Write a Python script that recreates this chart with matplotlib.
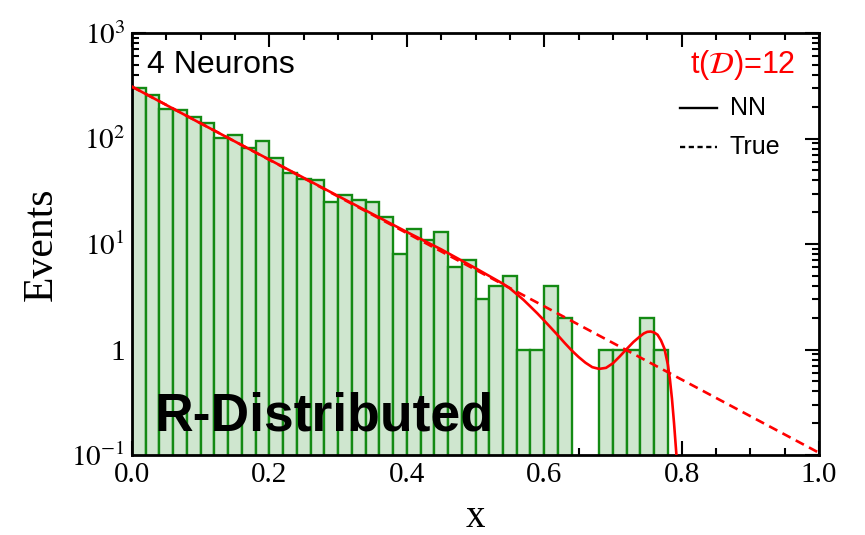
import matplotlib
matplotlib.use("Agg")
import matplotlib.pyplot as plt
from matplotlib.lines import Line2D
from matplotlib.ticker import FixedLocator, FixedFormatter, MultipleLocator, LogLocator, NullFormatter

# ---- data ----
bin_left = [0.00, 0.02, 0.04, 0.06, 0.08, 0.10, 0.12, 0.14, 0.16, 0.18,
            0.20, 0.22, 0.24, 0.26, 0.28, 0.30, 0.32, 0.34, 0.36, 0.38,
            0.40, 0.42, 0.44, 0.46, 0.48, 0.50, 0.52, 0.54, 0.56, 0.58,
            0.60, 0.62, 0.64, 0.66, 0.68, 0.70, 0.72, 0.74, 0.76]
counts = [298, 256, 192, 187, 161, 139, 102, 108, 82, 94,
          66, 47, 41, 40, 25, 29, 26, 25, 18, 8,
          14, 11, 13, 6, 7, 3, 4, 5, 1, 1,
          4, 2, 0, 0, 1, 1, 1, 2, 1]
bin_width = 0.02

true_x = [0.0, 1.0]
true_y = [310, 0.105]

nn_x = [0.00, 0.10, 0.20, 0.30, 0.40, 0.45, 0.50, 0.54, 0.55, 0.56,
        0.57, 0.58, 0.59, 0.60, 0.61, 0.62, 0.63, 0.64, 0.65, 0.66,
        0.67, 0.68, 0.69, 0.70, 0.71, 0.72, 0.73, 0.74, 0.745, 0.75,
        0.755, 0.76, 0.765, 0.77, 0.775, 0.78, 0.783, 0.786, 0.789, 0.792,
        0.795]
nn_y = [310, 139, 63, 28.5, 13.0, 8.9, 5.9, 4.2, 3.8, 3.35,
        2.95, 2.55, 2.2, 1.88, 1.6, 1.36, 1.15, 0.98, 0.85, 0.75,
        0.68, 0.655, 0.67, 0.74, 0.86, 1.01, 1.18, 1.34, 1.42, 1.47,
        1.48, 1.45, 1.38, 1.22, 1.02, 0.72, 0.52, 0.34, 0.2, 0.11,
        0.06]

ytick_vals = [0.1, 1, 10, 100, 1000]
ytick_labels = [r"$10^{-1}$", "1", r"$10^{1}$", r"$10^{2}$", r"$10^{3}$"]
xtick_vals = [0.0, 0.2, 0.4, 0.6, 0.8, 1.0]
xtick_labels = ["0.0", "0.2", "0.4", "0.6", "0.8", "1.0"]

plt.rcParams["mathtext.fontset"] = "stix"
serif = "Liberation Serif"
sans = "Liberation Sans"

fig = plt.figure(figsize=(8.65, 5.35), dpi=100)
ax = fig.add_axes([132 / 865, 80 / 535, 687 / 865, 422 / 535])

# bars (skip empty bins)
bx = [b for b, c in zip(bin_left, counts) if c > 0]
bc = [c for c in counts if c > 0]
ax.bar(bx, bc, width=bin_width, align="edge", facecolor="#cfe6cf",
       edgecolor="#138a13", linewidth=1.7, zorder=2)

ax.plot(true_x, true_y, color="red", linestyle=(0, (3.5, 2.2)), linewidth=1.9,
        zorder=3, label="True")
ax.plot(nn_x, nn_y, color="red", linestyle="-", linewidth=1.9, zorder=4, label="NN")

ax.set_yscale("log")
ax.set_xlim(0, 1)
ax.set_ylim(0.1, 1000)

ax.yaxis.set_major_locator(FixedLocator(ytick_vals))
ax.yaxis.set_major_formatter(FixedFormatter(ytick_labels))
ax.yaxis.set_minor_locator(LogLocator(base=10, subs=range(2, 10)))
ax.yaxis.set_minor_formatter(NullFormatter())
ax.xaxis.set_major_locator(FixedLocator(xtick_vals))
ax.xaxis.set_major_formatter(FixedFormatter(xtick_labels))
ax.xaxis.set_minor_locator(MultipleLocator(0.05))

ax.tick_params(which="both", direction="in", top=True, right=True, width=1.5)
ax.tick_params(which="major", length=10, labelsize=21, pad=5)
ax.tick_params(which="minor", length=5)
for lab in ax.get_xticklabels() + ax.get_yticklabels():
    lab.set_fontfamily(serif)
for sp in ax.spines.values():
    sp.set_linewidth(2)

ax.set_xlabel("x", fontsize=28, family=serif, labelpad=8)
ax.set_ylabel("Events", fontsize=30, family=serif, labelpad=8)

ax.text(0.022, 0.906, "4 Neurons", transform=ax.transAxes, fontsize=23,
        family=sans, va="baseline", ha="left", zorder=6)
ax.text(0.033, 0.0575, "R-Distributed", transform=ax.transAxes, fontsize=38.5,
        family=sans, fontweight="bold", va="baseline", ha="left", zorder=6)

# legend block (title + two entries), placed as in the reference
ax.text(0.965, 0.924, r"t($\mathcal{D}$)=12", transform=ax.transAxes,
        fontsize=22, family=sans, color="red", ha="right", va="center", zorder=7)
leg_rows = [("NN", "-", 0.823), ("True", (0, (2.2, 1.5)), 0.729)]
for lab, ls, yy in leg_rows:
    ax.add_line(Line2D([0.797, 0.851], [yy, yy], transform=ax.transAxes,
                       color="black", linestyle=ls, linewidth=1.7, zorder=7))
    ax.text(0.870, yy, lab, transform=ax.transAxes, fontsize=18, family=sans,
            ha="left", va="center", zorder=7)

fig.savefig("out.png", dpi=100)
